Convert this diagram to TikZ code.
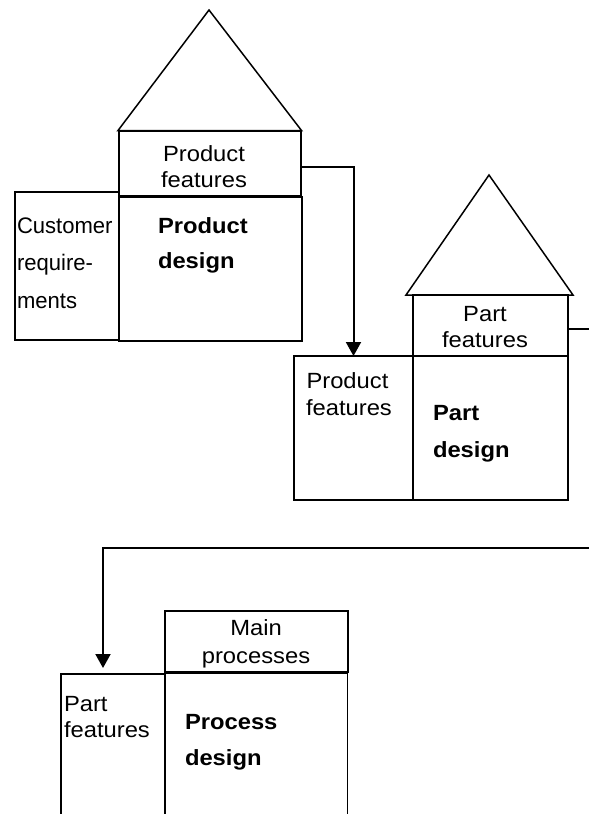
\documentclass[tikz,border=0pt]{standalone}
\usepackage{fontspec}
\setmainfont{Liberation Sans}[FakeStretch=1.08]
\newfontfamily\custfont{Liberation Sans}[FakeStretch=0.98]
\usetikzlibrary{arrows.meta}
\begin{document}
\begin{tikzpicture}[x=1pt,y=-1pt,
  box/.style={draw=black,line width=1.8pt,inner sep=0pt,outer sep=0pt,rectangle},
  roof/.style={draw=black,line width=1.5pt,line join=miter},
  conn/.style={draw=black,line width=2pt,-{Triangle[length=14pt,width=15pt]}},
  txt/.style={inner sep=0pt,outer sep=0pt,font=\fontsize{22}{26}\selectfont},
  btxt/.style={txt,font=\fontsize{22}{26}\selectfont\bfseries},
  ctxt/.style={inner sep=0pt,outer sep=0pt,font=\fontsize{22.5}{26}\selectfont\custfont}]
\useasboundingbox (0,0) rectangle (589,814);
\clip (0,0) rectangle (589,814);
\fill[white] (0,0) rectangle (589,814);

% ---------- House 1 ----------
\draw[roof] (118,130.5) -- (209,10) -- (301.5,130.5) -- cycle;
\node[box,minimum width=182pt,minimum height=65pt] (pf1) at (210,163.5) {};
\node[box,minimum width=183pt,minimum height=144pt] (pd1) at (210.5,269) {};
\node[box,minimum width=104pt,minimum height=148pt] (cr1) at (67,266) {};
\node[txt,anchor=base] (pf1a) at (204,161.5) {Product};
\node[txt,anchor=base] (pf1b) at (204,187) {features};
\node[ctxt,anchor=base west] (cr1a) at (17,233) {Customer};
\node[ctxt,anchor=base west] (cr1b) at (17,270) {require-};
\node[ctxt,anchor=base west] (cr1c) at (17,308) {ments};
\node[btxt,anchor=base west] (pd1a) at (158,233) {Product};
\node[btxt,anchor=base west] (pd1b) at (158,268) {design};

% ---------- House 2 ----------
\draw[roof] (406,295) -- (489,175) -- (573,295) -- cycle;
\node[box,minimum width=155pt,minimum height=61pt] (pf2) at (490.5,325.5) {};
\node[box,minimum width=119pt,minimum height=144pt] (prf2) at (353.5,428) {};
\node[box,minimum width=155pt,minimum height=144pt] (pd2) at (490.5,428) {};
\node[txt,anchor=base] (pf2a) at (485,321) {Part};
\node[txt,anchor=base] (pf2b) at (485,347.5) {features};
\node[txt,anchor=base west] (prf2a) at (306.5,388) {Product};
\node[txt,anchor=base west] (prf2b) at (306,415) {features};
\node[btxt,anchor=base west] (pd2a) at (433,420) {Part};
\node[btxt,anchor=base west] (pd2b) at (433,457) {design};

% ---------- House 3 ----------
\node[box,minimum width=183pt,minimum height=61pt] (mp3) at (256.5,641.5) {};
\node[box,minimum width=104pt,minimum height=144pt] (pf3) at (113,746) {};
\node[box,minimum width=182.5pt,minimum height=144pt] (prd3) at (256.25,745) {};
\node[txt,anchor=base] (mp3a) at (256,635) {Main};
\node[txt,anchor=base] (mp3b) at (256,663) {processes};
\node[txt,anchor=base west] (pf3a) at (64,711) {Part};
\node[txt,anchor=base west] (pf3b) at (64,737) {features};
\node[btxt,anchor=base west] (prd3a) at (185,729) {Process};
\node[btxt,anchor=base west] (prd3b) at (185,765) {design};

% ---------- Connectors ----------
\coordinate (offR) at (610,548);
\coordinate (bend) at (103,548);
\draw[conn] ([yshift=-3.5pt]pf1.east) -| (prf2.north);
\draw[conn] ([yshift=-3.5pt]pf2.east) -| (offR) -- (bend) -- ([xshift=-10pt,yshift=6pt]pf3.north);
\end{tikzpicture}
\end{document}
